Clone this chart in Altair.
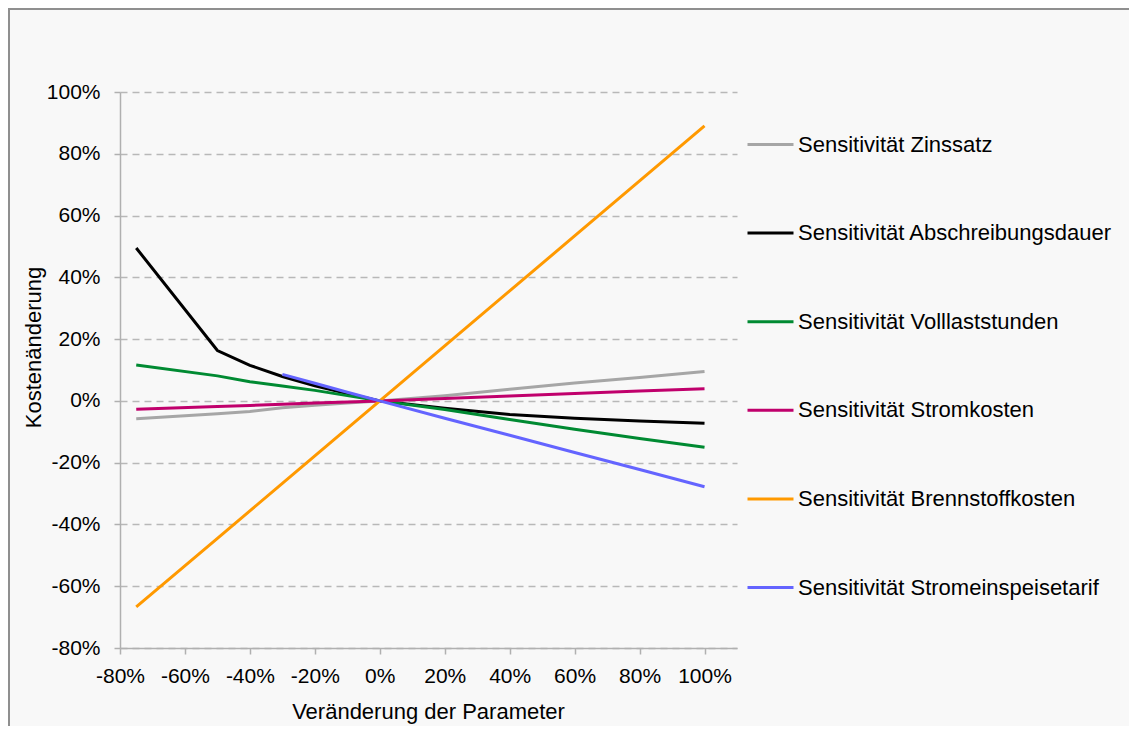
import altair as alt
import pandas as pd

# --- data ---
series_names = [
    "Sensitivität Zinssatz",
    "Sensitivität Abschreibungsdauer",
    "Sensitivität Volllaststunden",
    "Sensitivität Stromkosten",
    "Sensitivität Brennstoffkosten",
    "Sensitivität Stromeinspeisetarif",
]
series_colors = ["#a6a6a6", "#000000", "#008a32", "#c0006c", "#ff9900", "#6464ff"]

x_full = [-0.75, -0.5, -0.4, -0.3, -0.2, -0.1, 0.0, 0.2, 0.4, 0.6, 0.8, 1.0]
zins = [-0.058, -0.042, -0.034, -0.022, -0.014, -0.007, 0.0, 0.017, 0.038, 0.058, 0.076, 0.095]
abschreibung = [0.495, 0.163, 0.115, 0.079, 0.049, 0.024, 0.0, -0.024, -0.044, -0.056, -0.065, -0.072]
volllast = [0.116, 0.081, 0.062, 0.048, 0.034, 0.017, 0.0, -0.028, -0.060, -0.092, -0.122, -0.150]
stromkosten = [-0.027, -0.018, -0.015, -0.011, -0.007, -0.004, 0.0, 0.008, 0.016, 0.024, 0.032, 0.039]
brennstoff = [-0.667, -0.445, -0.356, -0.267, -0.178, -0.089, 0.0, 0.178, 0.356, 0.534, 0.712, 0.890]

x_tarif = [-0.3, -0.2, -0.1, 0.0, 0.2, 0.4, 0.6, 0.8, 1.0]
tarif = [0.086, 0.057, 0.028, 0.0, -0.056, -0.111, -0.167, -0.222, -0.278]

x_ticks = [-0.8, -0.6, -0.4, -0.2, 0.0, 0.2, 0.4, 0.6, 0.8, 1.0]
y_ticks = [-0.8, -0.6, -0.4, -0.2, 0.0, 0.2, 0.4, 0.6, 0.8, 1.0]

rows = []
for name, xs, ys in [
    (series_names[0], x_full, zins),
    (series_names[1], x_full, abschreibung),
    (series_names[2], x_full, volllast),
    (series_names[3], x_full, stromkosten),
    (series_names[4], x_full, brennstoff),
    (series_names[5], x_tarif, tarif),
]:
    for xv, yv in zip(xs, ys):
        rows.append({"series": name, "x": xv, "y": yv})
df = pd.DataFrame(rows)

FONT = "Liberation Sans"
AX = "#b0b0b0"

lines = alt.Chart(df).mark_line(strokeWidth=3).encode(
    x=alt.X(
        "x:Q",
        scale=alt.Scale(domain=[-0.8, 1.1], nice=False, zero=False),
        axis=alt.Axis(
            values=x_ticks,
            labelExpr="round(datum.value*100) + '%'",
            labelOverlap=False,
            labelFlush=False,
            title="Veränderung der Parameter",
            grid=False,
            domainColor=AX,
            domainWidth=1.5,
            tickColor=AX,
            tickWidth=1.5,
            tickSize=6,
            labelPadding=11,
            labelFont=FONT,
            labelFontSize=21,
            labelColor="#000000",
            titleFont=FONT,
            titleFontSize=22,
            titleFontWeight="normal",
            titleColor="#000000",
            titleX=308,
            titleY=63,
            titleAlign="center",
            titleBaseline="middle",
        ),
    ),
    y=alt.Y(
        "y:Q",
        scale=alt.Scale(domain=[-0.8, 1.0], nice=False, zero=False),
        axis=alt.Axis(
            values=y_ticks,
            labelExpr="round(datum.value*100) + '%'",
            labelOverlap=False,
            labelFlush=False,
            title="Kostenänderung",
            grid=True,
            gridColor="#b8b8b8",
            gridDash=[7, 5],
            gridWidth=1.5,
            domainColor=AX,
            domainWidth=1.5,
            tickColor=AX,
            tickWidth=1.5,
            tickSize=6,
            labelPadding=14,
            labelFont=FONT,
            labelFontSize=21,
            labelColor="#000000",
            titleFont=FONT,
            titleFontSize=22,
            titleFontWeight="normal",
            titleColor="#000000",
            titleAngle=270,
            titleX=-87,
            titleY=255,
            titleAlign="center",
            titleBaseline="middle",
        ),
    ),
    color=alt.Color(
        "series:N",
        scale=alt.Scale(domain=series_names, range=series_colors),
        legend=alt.Legend(
            title=None,
            orient="none",
            legendX=626,
            legendY=28,
            symbolType="stroke",
            symbolSize=2116,
            symbolStrokeWidth=3,
            labelFont=FONT,
            labelFontSize=22,
            labelColor="#000000",
            labelOffset=3,
            labelLimit=400,
            rowPadding=52.6,
            padding=0,
        ),
    ),
)

frame = alt.Chart(pd.DataFrame({"a": [0]})).mark_rect(
    fillOpacity=0, stroke="#8f8f8f", strokeWidth=2
).encode(
    x=alt.value(-111), x2=alt.value(1140),
    y=alt.value(-83), y2=alt.value(760),
)

chart = alt.layer(frame, lines).properties(
    width=617,
    height=556,
    padding={"left": 112, "top": 84, "right": 392, "bottom": 78},
    autosize=alt.AutoSizeParams(type="none"),
    background="#f8f8f8",
).configure_view(stroke=None)

chart.save("out.html", embed_options={"renderer": "svg", "actions": False})
